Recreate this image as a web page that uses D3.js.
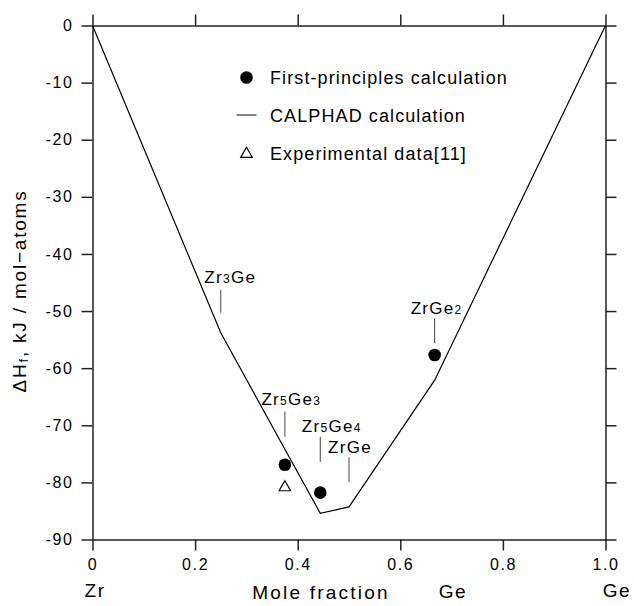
<!DOCTYPE html>
<html>
<head>
<meta charset="utf-8">
<script src="https://cdn.jsdelivr.net/npm/d3@7"></script>
<style>
  html, body { margin: 0; padding: 0; background: #fff; }
  svg { display: block; font-family: "Liberation Sans", Arial, sans-serif; }
</style>
</head>
<body>
<svg id="chart" width="634" height="606"></svg>
<script>
// ---------------- data ----------------
const xTicks = [0, 0.2, 0.4, 0.6, 0.8, 1.0];
const xTickLabels = ["0", "0.2", "0.4", "0.6", "0.8", "1.0"];
const yTicks = [0, -10, -20, -30, -40, -50, -60, -70, -80, -90];
const yTickLabels = ["0", "-10", "-20", "-30", "-40", "-50", "-60", "-70", "-80", "-90"];

// CALPHAD calculation (convex hull line)
const calphadX = [0, 0.25, 0.375, 0.444, 0.5, 0.667, 1.0];
const calphadY = [0, -53.8, -74.2, -85.4, -84.3, -62.1, 0];

// First-principles calculation
const fpX = [0.375, 0.444, 0.667];
const fpY = [-76.9, -81.8, -57.7];

// Experimental data [11]
const expX = [0.375];
const expY = [-80.7];

// Phase labels with leader lines (x, leader top, leader bottom)
const phaseNames = [["Zr","3","Ge"], ["Zr","5","Ge","3"], ["Zr","5","Ge","4"], ["Zr","Ge"], ["Zr","Ge","2"]];
const phaseX = [0.25, 0.375, 0.444, 0.5, 0.667];
const leaderTop = [-46.3, -67.6, -72.0, -75.6, -51.3];
const leaderBottom = [-50.3, -72.0, -76.4, -80.0, -55.6];

const legendLabels = ["First-principles calculation", "CALPHAD calculation", "Experimental data[11]"];

// ---------------- layout ----------------
const labelDx = [-16.5, -23.5, -18.5, -21, -24];
const labelDy = [-7, -6.5, -5, -4.6, -4.3];

const svg = d3.select("#chart");
const x = d3.scaleLinear().domain([0, 1]).range([92.5, 605.5]);
const y = d3.scaleLinear().domain([-90, 0]).range([539.5, 25.5]);

const axisColor = "#222";
function styleAxis(g) {
  g.select(".domain").attr("stroke", axisColor).attr("stroke-width", 1.5);
  g.selectAll(".tick line").attr("stroke", axisColor).attr("stroke-width", 1.5);
  g.selectAll(".tick text").attr("fill", "#000").style("font-size", "16px").style("letter-spacing", "1.6px")
    .style("font-family", "'Liberation Sans', Arial, sans-serif");
}

// bottom axis
svg.append("g").attr("transform", `translate(0,${y(-90)})`)
  .call(d3.axisBottom(x).tickValues(xTicks).tickSize(11).tickSizeOuter(0).tickPadding(8)
    .tickFormat((d, i) => xTickLabels[i]))
  .call(styleAxis);
// top axis
svg.append("g").attr("transform", `translate(0,${y(0)})`)
  .call(d3.axisTop(x).tickValues(xTicks).tickSize(11).tickSizeOuter(0).tickFormat(""))
  .call(styleAxis);
// left axis
svg.append("g").attr("transform", `translate(${x(0)},0)`)
  .call(d3.axisLeft(y).tickValues(yTicks).tickSize(11).tickSizeOuter(0).tickPadding(8)
    .tickFormat((d, i) => yTickLabels[i]))
  .call(styleAxis);
// right axis
svg.append("g").attr("transform", `translate(${x(1)},0)`)
  .call(d3.axisRight(y).tickValues(yTicks).tickSize(11).tickSizeOuter(0).tickFormat(""))
  .call(styleAxis);

// CALPHAD line
const line = d3.line().x(d => x(d[0])).y(d => y(d[1]));
svg.append("path")
  .datum(calphadX.map((v, i) => [v, calphadY[i]]))
  .attr("d", line).attr("fill", "none").attr("stroke", "#000").attr("stroke-width", 1.2);

// leader lines
svg.selectAll(".leader").data(phaseX).enter().append("line")
  .attr("x1", d => x(d)).attr("x2", d => x(d))
  .attr("y1", (d, i) => y(leaderTop[i])).attr("y2", (d, i) => y(leaderBottom[i]))
  .attr("stroke", "#444").attr("stroke-width", 1);

// phase labels
phaseNames.forEach((parts, i) => {
  const t = svg.append("text")
    .attr("x", x(phaseX[i]) + labelDx[i])
    .attr("y", y(leaderTop[i]) + labelDy[i])
    .attr("fill", "#000").style("font-size", "17px").style("letter-spacing", "1.3px");
  parts.forEach(p => {
    const isNum = /^\d+$/.test(p);
    t.append("tspan").text(p).style("font-size", isNum ? "12px" : "17px");
  });
});

// first-principles points
svg.selectAll(".fp").data(fpX).enter().append("circle")
  .attr("cx", d => x(d)).attr("cy", (d, i) => y(fpY[i])).attr("r", 6.3).attr("fill", "#000");

// experimental points
const tri = d3.symbol().type(d3.symbolTriangle).size(58);
svg.selectAll(".exp").data(expX).enter().append("path")
  .attr("d", tri)
  .attr("transform", (d, i) => `translate(${x(d)},${y(expY[i]) + 1})`)
  .attr("fill", "#fff").attr("stroke", "#000").attr("stroke-width", 1.2);

// legend
const lg = svg.append("g");
const legY = [77.5, 115, 153];
lg.append("circle").attr("cx", 246.5).attr("cy", legY[0]).attr("r", 6.3).attr("fill", "#000");
lg.append("line").attr("x1", 236.5).attr("x2", 256.5).attr("y1", legY[1]).attr("y2", legY[1])
  .attr("stroke", "#333").attr("stroke-width", 1.2);
lg.append("path").attr("d", tri).attr("transform", `translate(246.5,${legY[2] + 1})`)
  .attr("fill", "#fff").attr("stroke", "#000").attr("stroke-width", 1.2);
lg.selectAll("text").data(legendLabels).enter().append("text")
  .attr("x", 270).attr("y", (d, i) => legY[i] + 6.5)
  .attr("fill", "#000").style("font-size", "18px").style("letter-spacing", "1.1px")
  .text(d => d);

// axis titles
svg.append("text").attr("x", 95).attr("y", 597).attr("text-anchor", "middle")
  .attr("fill", "#000").style("font-size", "19px").style("letter-spacing", "1.5px").text("Zr");
svg.append("text").attr("x", 321).attr("y", 599).attr("text-anchor", "middle")
  .attr("fill", "#000").style("font-size", "19px").style("letter-spacing", "2.2px").text("Mole fraction");
svg.append("text").attr("x", 453).attr("y", 598).attr("text-anchor", "middle")
  .attr("fill", "#000").style("font-size", "19px").style("letter-spacing", "1.5px").text("Ge");
svg.append("text").attr("x", 617).attr("y", 597).attr("text-anchor", "middle")
  .attr("fill", "#000").style("font-size", "19px").style("letter-spacing", "1.5px").text("Ge");

const yt = svg.append("text").attr("transform", "translate(25.5,291) rotate(-90)")
  .attr("text-anchor", "middle").attr("fill", "#000")
  .style("font-size", "19px").style("letter-spacing", "1.8px");
yt.append("tspan").text("ΔH");
yt.append("tspan").text("f").style("font-size", "13px").attr("dy", 2);
yt.append("tspan").text(", kJ / mol−atoms").attr("dy", -2);
</script>
</body>
</html>
